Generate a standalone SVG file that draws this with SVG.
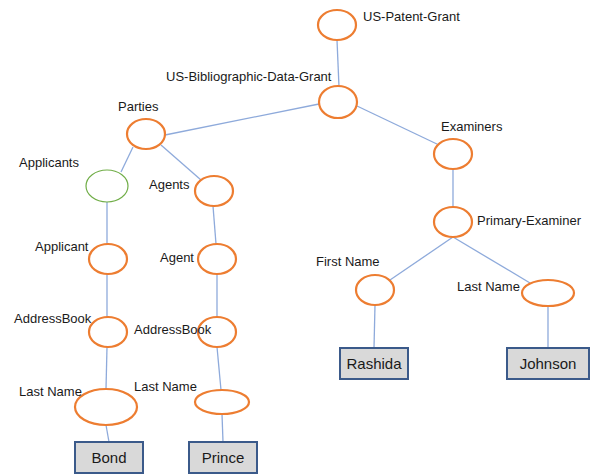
<svg xmlns="http://www.w3.org/2000/svg" width="590" height="474" viewBox="0 0 590 474">
<style>
.n{fill:#fff;stroke:#ED7D31;stroke-width:2.2}
.g{fill:#fff;stroke:#70AD47;stroke-width:1.2}
.c line{stroke:#8EAADB;stroke-width:1.3}
.l{font-family:"Liberation Sans",Arial,sans-serif;font-size:13px;fill:#1a1a1a}
.b{fill:#D9D9D9;stroke:#3B5A8A;stroke-width:2}
.bt{font-family:"Liberation Sans",Arial,sans-serif;font-size:15px;fill:#1a1a1a;text-anchor:middle}
</style>
<rect width="590" height="474" fill="#fff"/>
<g class="c" id="connectors">
<line x1="337" y1="40" x2="339" y2="87"/>
<line x1="319" y1="104" x2="165" y2="135"/>
<line x1="357" y1="106" x2="439" y2="145"/>
<line x1="133" y1="147" x2="121" y2="172"/>
<line x1="161" y1="145" x2="201" y2="180"/>
<line x1="107" y1="202" x2="107" y2="244"/>
<line x1="213" y1="206" x2="216" y2="244"/>
<line x1="107" y1="274" x2="107" y2="317"/>
<line x1="217" y1="274" x2="217" y2="317"/>
<line x1="107" y1="347" x2="106" y2="389"/>
<line x1="217" y1="347" x2="221" y2="390"/>
<line x1="106" y1="425" x2="109" y2="442"/>
<line x1="222" y1="414" x2="223" y2="442"/>
<line x1="453" y1="169" x2="453" y2="207"/>
<line x1="453" y1="237" x2="390" y2="280"/>
<line x1="453" y1="237" x2="530" y2="283"/>
<line x1="375" y1="305" x2="374" y2="348"/>
<line x1="548" y1="306" x2="548" y2="348"/>
</g>
<g id="us-patent-grant"><ellipse class="n" cx="337" cy="25" rx="19" ry="15"/><text class="l" x="363" y="21">US-Patent-Grant</text></g>
<g id="us-bib"><ellipse class="n" cx="338" cy="102" rx="19" ry="16"/><text class="l" x="166" y="81">US-Bibliographic-Data-Grant</text></g>
<g id="parties"><ellipse class="n" cx="146" cy="134" rx="19" ry="15"/><text class="l" x="118" y="111">Parties</text></g>
<g id="applicants"><ellipse class="g" cx="107" cy="186" rx="21" ry="16"/><text class="l" x="19" y="167">Applicants</text></g>
<g id="agents"><ellipse class="n" cx="214" cy="191" rx="19" ry="15"/><text class="l" x="149" y="189">Agents</text></g>
<g id="examiners"><ellipse class="n" cx="453" cy="154" rx="19" ry="15"/><text class="l" x="441" y="131">Examiners</text></g>
<g id="primary-examiner"><ellipse class="n" cx="453" cy="222" rx="19" ry="15"/><text class="l" x="477" y="225">Primary-Examiner</text></g>
<g id="applicant"><ellipse class="n" cx="108" cy="259" rx="19" ry="15"/><text class="l" x="35" y="251">Applicant</text></g>
<g id="agent"><ellipse class="n" cx="217" cy="259" rx="19" ry="15"/><text class="l" x="160" y="262">Agent</text></g>
<g id="addressbook-l"><ellipse class="n" cx="108" cy="332" rx="19" ry="15"/><text class="l" x="14" y="323">AddressBook</text></g>
<g id="addressbook-r"><ellipse class="n" cx="217" cy="332" rx="19" ry="15"/><text class="l" x="134" y="334">AddressBook</text></g>
<g id="lastname-l"><ellipse class="n" cx="106" cy="407" rx="31" ry="18"/><text class="l" x="19" y="396">Last Name</text></g>
<g id="lastname-r"><ellipse class="n" cx="222" cy="402" rx="27" ry="12"/><text class="l" x="134" y="391">Last Name</text></g>
<g id="firstname"><ellipse class="n" cx="375" cy="290" rx="19" ry="15"/><text class="l" x="316" y="266">First Name</text></g>
<g id="lastname-e"><ellipse class="n" cx="548" cy="293" rx="26" ry="13"/><text class="l" x="457" y="291">Last Name</text></g>
<g id="bond"><rect class="b" x="75" y="442" width="68" height="31"/><text class="bt" x="109" y="463">Bond</text></g>
<g id="prince"><rect class="b" x="189" y="442" width="68" height="31"/><text class="bt" x="223" y="463">Prince</text></g>
<g id="rashida"><rect class="b" x="340" y="348" width="68" height="31"/><text class="bt" x="374" y="369">Rashida</text></g>
<g id="johnson"><rect class="b" x="507" y="348" width="82" height="31"/><text class="bt" x="548" y="369">Johnson</text></g>
</svg>
